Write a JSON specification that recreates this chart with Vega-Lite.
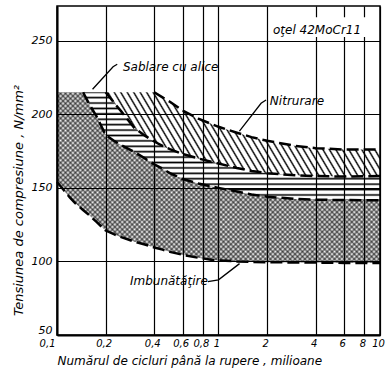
{
"$schema":"https://vega.github.io/schema/vega-lite/v6.json",
"width":323,"height":329,"autosize":"none",
"padding":{"left":57,"top":6,"right":8,"bottom":49},
"background":"white",
"params":[{"name":"xh","value":[
{"offset":0,"color":"#0008"},{"offset":0.005,"color":"#0000"},{"offset":0.01,"color":"#0008"},{"offset":0.015,"color":"#0000"},{"offset":0.02,"color":"#0008"},{"offset":0.025,"color":"#0000"},{"offset":0.03,"color":"#0008"},{"offset":0.035,"color":"#0000"},{"offset":0.04,"color":"#0008"},{"offset":0.045,"color":"#0000"},
{"offset":0.05,"color":"#0008"},{"offset":0.055,"color":"#0000"},{"offset":0.06,"color":"#0008"},{"offset":0.065,"color":"#0000"},{"offset":0.07,"color":"#0008"},{"offset":0.075,"color":"#0000"},{"offset":0.08,"color":"#0008"},{"offset":0.085,"color":"#0000"},{"offset":0.09,"color":"#0008"},{"offset":0.095,"color":"#0000"},
{"offset":0.1,"color":"#0008"},{"offset":0.105,"color":"#0000"},{"offset":0.11,"color":"#0008"},{"offset":0.115,"color":"#0000"},{"offset":0.12,"color":"#0008"},{"offset":0.125,"color":"#0000"},{"offset":0.13,"color":"#0008"},{"offset":0.135,"color":"#0000"},{"offset":0.14,"color":"#0008"},{"offset":0.145,"color":"#0000"},
{"offset":0.15,"color":"#0008"},{"offset":0.155,"color":"#0000"},{"offset":0.16,"color":"#0008"},{"offset":0.165,"color":"#0000"},{"offset":0.17,"color":"#0008"},{"offset":0.175,"color":"#0000"},{"offset":0.18,"color":"#0008"},{"offset":0.185,"color":"#0000"},{"offset":0.19,"color":"#0008"},{"offset":0.195,"color":"#0000"},
{"offset":0.2,"color":"#0008"},{"offset":0.205,"color":"#0000"},{"offset":0.21,"color":"#0008"},{"offset":0.215,"color":"#0000"},{"offset":0.22,"color":"#0008"},{"offset":0.225,"color":"#0000"},{"offset":0.23,"color":"#0008"},{"offset":0.235,"color":"#0000"},{"offset":0.24,"color":"#0008"},{"offset":0.245,"color":"#0000"},
{"offset":0.25,"color":"#0008"},{"offset":0.255,"color":"#0000"},{"offset":0.26,"color":"#0008"},{"offset":0.265,"color":"#0000"},{"offset":0.27,"color":"#0008"},{"offset":0.275,"color":"#0000"},{"offset":0.28,"color":"#0008"},{"offset":0.285,"color":"#0000"},{"offset":0.29,"color":"#0008"},{"offset":0.295,"color":"#0000"},
{"offset":0.3,"color":"#0008"},{"offset":0.305,"color":"#0000"},{"offset":0.31,"color":"#0008"},{"offset":0.315,"color":"#0000"},{"offset":0.32,"color":"#0008"},{"offset":0.325,"color":"#0000"},{"offset":0.33,"color":"#0008"},{"offset":0.335,"color":"#0000"},{"offset":0.34,"color":"#0008"},{"offset":0.345,"color":"#0000"},
{"offset":0.35,"color":"#0008"},{"offset":0.355,"color":"#0000"},{"offset":0.36,"color":"#0008"},{"offset":0.365,"color":"#0000"},{"offset":0.37,"color":"#0008"},{"offset":0.375,"color":"#0000"},{"offset":0.38,"color":"#0008"},{"offset":0.385,"color":"#0000"},{"offset":0.39,"color":"#0008"},{"offset":0.395,"color":"#0000"},
{"offset":0.4,"color":"#0008"},{"offset":0.405,"color":"#0000"},{"offset":0.41,"color":"#0008"},{"offset":0.415,"color":"#0000"},{"offset":0.42,"color":"#0008"},{"offset":0.425,"color":"#0000"},{"offset":0.43,"color":"#0008"},{"offset":0.435,"color":"#0000"},{"offset":0.44,"color":"#0008"},{"offset":0.445,"color":"#0000"},
{"offset":0.45,"color":"#0008"},{"offset":0.455,"color":"#0000"},{"offset":0.46,"color":"#0008"},{"offset":0.465,"color":"#0000"},{"offset":0.47,"color":"#0008"},{"offset":0.475,"color":"#0000"},{"offset":0.48,"color":"#0008"},{"offset":0.485,"color":"#0000"},{"offset":0.49,"color":"#0008"},{"offset":0.495,"color":"#0000"},
{"offset":0.5,"color":"#0008"},{"offset":0.505,"color":"#0000"},{"offset":0.51,"color":"#0008"},{"offset":0.515,"color":"#0000"},{"offset":0.52,"color":"#0008"},{"offset":0.525,"color":"#0000"},{"offset":0.53,"color":"#0008"},{"offset":0.535,"color":"#0000"},{"offset":0.54,"color":"#0008"},{"offset":0.545,"color":"#0000"},
{"offset":0.55,"color":"#0008"},{"offset":0.555,"color":"#0000"},{"offset":0.56,"color":"#0008"},{"offset":0.565,"color":"#0000"},{"offset":0.57,"color":"#0008"},{"offset":0.575,"color":"#0000"},{"offset":0.58,"color":"#0008"},{"offset":0.585,"color":"#0000"},{"offset":0.59,"color":"#0008"},{"offset":0.595,"color":"#0000"},
{"offset":0.6,"color":"#0008"},{"offset":0.605,"color":"#0000"},{"offset":0.61,"color":"#0008"},{"offset":0.615,"color":"#0000"},{"offset":0.62,"color":"#0008"},{"offset":0.625,"color":"#0000"},{"offset":0.63,"color":"#0008"},{"offset":0.635,"color":"#0000"},{"offset":0.64,"color":"#0008"},{"offset":0.645,"color":"#0000"},
{"offset":0.65,"color":"#0008"},{"offset":0.655,"color":"#0000"},{"offset":0.66,"color":"#0008"},{"offset":0.665,"color":"#0000"},{"offset":0.67,"color":"#0008"},{"offset":0.675,"color":"#0000"},{"offset":0.68,"color":"#0008"},{"offset":0.685,"color":"#0000"},{"offset":0.69,"color":"#0008"},{"offset":0.695,"color":"#0000"},
{"offset":0.7,"color":"#0008"},{"offset":0.705,"color":"#0000"},{"offset":0.71,"color":"#0008"},{"offset":0.715,"color":"#0000"},{"offset":0.72,"color":"#0008"},{"offset":0.725,"color":"#0000"},{"offset":0.73,"color":"#0008"},{"offset":0.735,"color":"#0000"},{"offset":0.74,"color":"#0008"},{"offset":0.745,"color":"#0000"},
{"offset":0.75,"color":"#0008"},{"offset":0.755,"color":"#0000"},{"offset":0.76,"color":"#0008"},{"offset":0.765,"color":"#0000"},{"offset":0.77,"color":"#0008"},{"offset":0.775,"color":"#0000"},{"offset":0.78,"color":"#0008"},{"offset":0.785,"color":"#0000"},{"offset":0.79,"color":"#0008"},{"offset":0.795,"color":"#0000"},
{"offset":0.8,"color":"#0008"},{"offset":0.805,"color":"#0000"},{"offset":0.81,"color":"#0008"},{"offset":0.815,"color":"#0000"},{"offset":0.82,"color":"#0008"},{"offset":0.825,"color":"#0000"},{"offset":0.83,"color":"#0008"},{"offset":0.835,"color":"#0000"},{"offset":0.84,"color":"#0008"},{"offset":0.845,"color":"#0000"},
{"offset":0.85,"color":"#0008"},{"offset":0.855,"color":"#0000"},{"offset":0.86,"color":"#0008"},{"offset":0.865,"color":"#0000"},{"offset":0.87,"color":"#0008"},{"offset":0.875,"color":"#0000"},{"offset":0.88,"color":"#0008"},{"offset":0.885,"color":"#0000"},{"offset":0.89,"color":"#0008"},{"offset":0.895,"color":"#0000"},
{"offset":0.9,"color":"#0008"},{"offset":0.905,"color":"#0000"},{"offset":0.91,"color":"#0008"},{"offset":0.915,"color":"#0000"},{"offset":0.92,"color":"#0008"},{"offset":0.925,"color":"#0000"},{"offset":0.93,"color":"#0008"},{"offset":0.935,"color":"#0000"},{"offset":0.94,"color":"#0008"},{"offset":0.945,"color":"#0000"},
{"offset":0.95,"color":"#0008"},{"offset":0.955,"color":"#0000"},{"offset":0.96,"color":"#0008"},{"offset":0.965,"color":"#0000"},{"offset":0.97,"color":"#0008"},{"offset":0.975,"color":"#0000"},{"offset":0.98,"color":"#0008"},{"offset":0.985,"color":"#0000"},{"offset":0.99,"color":"#0008"},{"offset":0.995,"color":"#0000"},
{"offset":1,"color":"#0008"}]}],
"config":{
"view":{"stroke":"black","strokeWidth":1.5},
"axis":{"domainColor":"black","domainWidth":2,"gridColor":"black","gridWidth":1.2,"gridOpacity":1,"ticks":false,"labelColor":"black","titleColor":"black","labelFont":"DejaVu Sans","titleFont":"DejaVu Sans","labelFontStyle":"italic","titleFontStyle":"italic","titleFontWeight":"normal","labelFontSize":11,"titleFontSize":12,"labelFlush":false,"labelOverlap":false},
"text":{"font":"DejaVu Sans","fontStyle":"italic","fontSize":12,"align":"left","baseline":"middle","color":"black"}
},
"datasets":{
"bands":[
{"band":"imb","x":0.1,"lo":154,"hi":215},{"band":"imb","x":0.11,"lo":148.5,"hi":215},{"band":"imb","x":0.12,"lo":143.5,"hi":215},{"band":"imb","x":0.13,"lo":139.5,"hi":215},{"band":"imb","x":0.145,"lo":135,"hi":215},{"band":"imb","x":0.16,"lo":131,"hi":206},{"band":"imb","x":0.175,"lo":127,"hi":199},{"band":"imb","x":0.2,"lo":121,"hi":186},{"band":"imb","x":0.225,"lo":118.5,"hi":182},{"band":"imb","x":0.25,"lo":116.5,"hi":179},{"band":"imb","x":0.3,"lo":113.5,"hi":174.5},{"band":"imb","x":0.35,"lo":111.5,"hi":170},{"band":"imb","x":0.4,"lo":109.5,"hi":166},{"band":"imb","x":0.45,"lo":108,"hi":163},{"band":"imb","x":0.5,"lo":106.5,"hi":160},{"band":"imb","x":0.6,"lo":104.5,"hi":156},{"band":"imb","x":0.75,"lo":102.5,"hi":153},{"band":"imb","x":0.9,"lo":101.2,"hi":151},{"band":"imb","x":1,"lo":100.7,"hi":150},{"band":"imb","x":1.3,"lo":100,"hi":147.5},{"band":"imb","x":1.6,"lo":99.7,"hi":145.5},{"band":"imb","x":2,"lo":99.5,"hi":144},{"band":"imb","x":3,"lo":99.3,"hi":142.5},{"band":"imb","x":4,"lo":99.2,"hi":142},{"band":"imb","x":6,"lo":99,"hi":141.7},{"band":"imb","x":10,"lo":99,"hi":141.5},
{"band":"sab","x":0.145,"lo":215,"hi":215},{"band":"sab","x":0.16,"lo":206,"hi":215},{"band":"sab","x":0.175,"lo":199,"hi":215},{"band":"sab","x":0.2,"lo":186,"hi":215},{"band":"sab","x":0.225,"lo":182,"hi":208},{"band":"sab","x":0.25,"lo":179,"hi":202},{"band":"sab","x":0.3,"lo":174.5,"hi":191},{"band":"sab","x":0.35,"lo":170,"hi":185.5},{"band":"sab","x":0.4,"lo":166,"hi":181.5},{"band":"sab","x":0.45,"lo":163,"hi":178.5},{"band":"sab","x":0.5,"lo":160,"hi":176.3},{"band":"sab","x":0.6,"lo":156,"hi":173},{"band":"sab","x":0.75,"lo":153,"hi":170},{"band":"sab","x":0.9,"lo":151,"hi":167.7},{"band":"sab","x":1,"lo":150,"hi":166.5},{"band":"sab","x":1.3,"lo":147.5,"hi":163.5},{"band":"sab","x":1.6,"lo":145.5,"hi":161.5},{"band":"sab","x":2,"lo":144,"hi":160},{"band":"sab","x":3,"lo":142.5,"hi":158.5},{"band":"sab","x":4,"lo":142,"hi":158},{"band":"sab","x":6,"lo":141.7,"hi":157.7},{"band":"sab","x":10,"lo":141.5,"hi":158},
{"band":"nit","x":0.2,"lo":215,"hi":215},{"band":"nit","x":0.225,"lo":208,"hi":215},{"band":"nit","x":0.25,"lo":202,"hi":215},{"band":"nit","x":0.3,"lo":191,"hi":215},{"band":"nit","x":0.35,"lo":185.5,"hi":215},{"band":"nit","x":0.4,"lo":181.5,"hi":215},{"band":"nit","x":0.45,"lo":178.5,"hi":211.5},{"band":"nit","x":0.5,"lo":176.3,"hi":208.5},{"band":"nit","x":0.6,"lo":173,"hi":202.5},{"band":"nit","x":0.75,"lo":170,"hi":197},{"band":"nit","x":0.9,"lo":167.7,"hi":193.5},{"band":"nit","x":1,"lo":166.5,"hi":191.5},{"band":"nit","x":1.3,"lo":163.5,"hi":187.5},{"band":"nit","x":1.6,"lo":161.5,"hi":184.5},{"band":"nit","x":2,"lo":160,"hi":182},{"band":"nit","x":3,"lo":158.5,"hi":178.5},{"band":"nit","x":4,"lo":158,"hi":177},{"band":"nit","x":6,"lo":157.7,"hi":176},{"band":"nit","x":10,"lo":158,"hi":176}
],
"leaders":[
{"id":"s","o":1,"x":0.236,"y":234},{"id":"s","o":2,"x":0.2225,"y":232.3},{"id":"s","o":3,"x":0.166,"y":217},
{"id":"n","o":1,"x":1.97,"y":209.7},{"id":"n","o":2,"x":1.835,"y":207.5},{"id":"n","o":3,"x":1.348,"y":188.5},
{"id":"i","o":1,"x":0.86,"y":86.3},{"id":"i","o":2,"x":1.0,"y":87.5},{"id":"i","o":3,"x":1.35,"y":98.5}
],
"labels":[
{"t":"Sablare cu alice","x":0.256,"y":232},
{"t":"Nitrurare","x":2.08,"y":209},
{"t":"Imbunătăţire","x":0.283,"y":86.8},
{"t":"oţel 42MoCr11","x":2.175,"y":257.5}
],
"box":[{"x":2.12,"x2":9.6,"y":252.5,"y2":266}]
},
"layer":[
{"data":{"name":"bands"},"transform":[{"filter":"datum.band=='imb'"}],
"mark":{"type":"area","fill":{"expr":"{gradient:'linear',x1:0,y1:0,x2:1.195,y2:0.631,stops:xh}"}},
"encoding":{
"x":{"field":"x","type":"quantitative","scale":{"type":"log","domain":[0.1,10],"nice":false},"axis":{"values":[0.1,0.2,0.4,0.6,0.8,1,2,4,6,8,10],"format":"~g","labelExpr":"replace(datum.label,'.',',')","labelAlign":{"condition":{"test":"datum.value<=0.1","value":"right"},"value":"center"},"labelOffset":-2,"labelPadding":3,"labelFontSize":10,"grid":true,"title":"Numărul de cicluri până la rupere , milioane","titleAnchor":"start","titlePadding":7}},
"y":{"field":"lo","type":"quantitative","scale":{"domain":[50,273.6],"nice":false,"zero":false},"axis":{"values":[50,100,150,200,250],"labelPadding":5,"labelBaseline":{"condition":{"test":"datum.value<=50","value":"bottom"},"value":"middle"},"grid":true,"title":"Tensiunea de compresiune , N/mm²","titleFontSize":13,"titlePadding":6,"titleY":194}},
"y2":{"field":"hi"}}},
{"data":{"name":"bands"},"transform":[{"filter":"datum.band=='imb'"}],
"mark":{"type":"area","fill":{"expr":"{gradient:'linear',x1:0,y1:1,x2:1.195,y2:0.369,stops:xh}"}},
"encoding":{"x":{"field":"x","type":"quantitative"},"y":{"field":"lo","type":"quantitative"},"y2":{"field":"hi"}}},
{"data":{"name":"bands"},"transform":[{"filter":"datum.band=='sab'"}],
"mark":{"type":"area","fill":{"gradient":"linear","x1":0,"y1":0,"x2":0,"y2":1,"stops":[
{"offset":0,"color":"#000"},{"offset":0.015,"color":"#0000"},{"offset":0.035,"color":"#0000"},
{"offset":0.05,"color":"#000"},{"offset":0.065,"color":"#0000"},{"offset":0.085,"color":"#0000"},
{"offset":0.1,"color":"#000"},{"offset":0.115,"color":"#0000"},{"offset":0.135,"color":"#0000"},
{"offset":0.15,"color":"#000"},{"offset":0.165,"color":"#0000"},{"offset":0.185,"color":"#0000"},
{"offset":0.2,"color":"#000"},{"offset":0.215,"color":"#0000"},{"offset":0.235,"color":"#0000"},
{"offset":0.25,"color":"#000"},{"offset":0.265,"color":"#0000"},{"offset":0.285,"color":"#0000"},
{"offset":0.3,"color":"#000"},{"offset":0.315,"color":"#0000"},{"offset":0.335,"color":"#0000"},
{"offset":0.35,"color":"#000"},{"offset":0.365,"color":"#0000"},{"offset":0.385,"color":"#0000"},
{"offset":0.4,"color":"#000"},{"offset":0.415,"color":"#0000"},{"offset":0.435,"color":"#0000"},
{"offset":0.45,"color":"#000"},{"offset":0.465,"color":"#0000"},{"offset":0.485,"color":"#0000"},
{"offset":0.5,"color":"#000"},{"offset":0.515,"color":"#0000"},{"offset":0.535,"color":"#0000"},
{"offset":0.55,"color":"#000"},{"offset":0.565,"color":"#0000"},{"offset":0.585,"color":"#0000"},
{"offset":0.6,"color":"#000"},{"offset":0.615,"color":"#0000"},{"offset":0.635,"color":"#0000"},
{"offset":0.65,"color":"#000"},{"offset":0.665,"color":"#0000"},{"offset":0.685,"color":"#0000"},
{"offset":0.7,"color":"#000"},{"offset":0.715,"color":"#0000"},{"offset":0.735,"color":"#0000"},
{"offset":0.75,"color":"#000"},{"offset":0.765,"color":"#0000"},{"offset":0.785,"color":"#0000"},
{"offset":0.8,"color":"#000"},{"offset":0.815,"color":"#0000"},{"offset":0.835,"color":"#0000"},
{"offset":0.85,"color":"#000"},{"offset":0.865,"color":"#0000"},{"offset":0.885,"color":"#0000"},
{"offset":0.9,"color":"#000"},{"offset":0.915,"color":"#0000"},{"offset":0.935,"color":"#0000"},
{"offset":0.95,"color":"#000"},{"offset":0.965,"color":"#0000"},{"offset":0.985,"color":"#0000"},
{"offset":1,"color":"#000"}]}},
"encoding":{"x":{"field":"x","type":"quantitative"},"y":{"field":"lo","type":"quantitative"},"y2":{"field":"hi"}}},
{"data":{"name":"bands"},"transform":[{"filter":"datum.band=='nit'"}],
"mark":{"type":"area","fill":{"gradient":"linear","x1":0,"y1":1,"x2":1.143,"y2":0.793,"stops":[
{"offset":0,"color":"#000"},{"offset":0.005,"color":"#0000"},{"offset":0.015,"color":"#0000"},
{"offset":0.02,"color":"#000"},{"offset":0.025,"color":"#0000"},{"offset":0.035,"color":"#0000"},
{"offset":0.04,"color":"#000"},{"offset":0.045,"color":"#0000"},{"offset":0.055,"color":"#0000"},
{"offset":0.06,"color":"#000"},{"offset":0.065,"color":"#0000"},{"offset":0.075,"color":"#0000"},
{"offset":0.08,"color":"#000"},{"offset":0.085,"color":"#0000"},{"offset":0.095,"color":"#0000"},
{"offset":0.1,"color":"#000"},{"offset":0.105,"color":"#0000"},{"offset":0.115,"color":"#0000"},
{"offset":0.12,"color":"#000"},{"offset":0.125,"color":"#0000"},{"offset":0.135,"color":"#0000"},
{"offset":0.14,"color":"#000"},{"offset":0.145,"color":"#0000"},{"offset":0.155,"color":"#0000"},
{"offset":0.16,"color":"#000"},{"offset":0.165,"color":"#0000"},{"offset":0.175,"color":"#0000"},
{"offset":0.18,"color":"#000"},{"offset":0.185,"color":"#0000"},{"offset":0.195,"color":"#0000"},
{"offset":0.2,"color":"#000"},{"offset":0.205,"color":"#0000"},{"offset":0.215,"color":"#0000"},
{"offset":0.22,"color":"#000"},{"offset":0.225,"color":"#0000"},{"offset":0.235,"color":"#0000"},
{"offset":0.24,"color":"#000"},{"offset":0.245,"color":"#0000"},{"offset":0.255,"color":"#0000"},
{"offset":0.26,"color":"#000"},{"offset":0.265,"color":"#0000"},{"offset":0.275,"color":"#0000"},
{"offset":0.28,"color":"#000"},{"offset":0.285,"color":"#0000"},{"offset":0.295,"color":"#0000"},
{"offset":0.3,"color":"#000"},{"offset":0.305,"color":"#0000"},{"offset":0.315,"color":"#0000"},
{"offset":0.32,"color":"#000"},{"offset":0.325,"color":"#0000"},{"offset":0.335,"color":"#0000"},
{"offset":0.34,"color":"#000"},{"offset":0.345,"color":"#0000"},{"offset":0.355,"color":"#0000"},
{"offset":0.36,"color":"#000"},{"offset":0.365,"color":"#0000"},{"offset":0.375,"color":"#0000"},
{"offset":0.38,"color":"#000"},{"offset":0.385,"color":"#0000"},{"offset":0.395,"color":"#0000"},
{"offset":0.4,"color":"#000"},{"offset":0.405,"color":"#0000"},{"offset":0.415,"color":"#0000"},
{"offset":0.42,"color":"#000"},{"offset":0.425,"color":"#0000"},{"offset":0.435,"color":"#0000"},
{"offset":0.44,"color":"#000"},{"offset":0.445,"color":"#0000"},{"offset":0.455,"color":"#0000"},
{"offset":0.46,"color":"#000"},{"offset":0.465,"color":"#0000"},{"offset":0.475,"color":"#0000"},
{"offset":0.48,"color":"#000"},{"offset":0.485,"color":"#0000"},{"offset":0.495,"color":"#0000"},
{"offset":0.5,"color":"#000"},{"offset":0.505,"color":"#0000"},{"offset":0.515,"color":"#0000"},
{"offset":0.52,"color":"#000"},{"offset":0.525,"color":"#0000"},{"offset":0.535,"color":"#0000"},
{"offset":0.54,"color":"#000"},{"offset":0.545,"color":"#0000"},{"offset":0.555,"color":"#0000"},
{"offset":0.56,"color":"#000"},{"offset":0.565,"color":"#0000"},{"offset":0.575,"color":"#0000"},
{"offset":0.58,"color":"#000"},{"offset":0.585,"color":"#0000"},{"offset":0.595,"color":"#0000"},
{"offset":0.6,"color":"#000"},{"offset":0.605,"color":"#0000"},{"offset":0.615,"color":"#0000"},
{"offset":0.62,"color":"#000"},{"offset":0.625,"color":"#0000"},{"offset":0.635,"color":"#0000"},
{"offset":0.64,"color":"#000"},{"offset":0.645,"color":"#0000"},{"offset":0.655,"color":"#0000"},
{"offset":0.66,"color":"#000"},{"offset":0.665,"color":"#0000"},{"offset":0.675,"color":"#0000"},
{"offset":0.68,"color":"#000"},{"offset":0.685,"color":"#0000"},{"offset":0.695,"color":"#0000"},
{"offset":0.7,"color":"#000"},{"offset":0.705,"color":"#0000"},{"offset":0.715,"color":"#0000"},
{"offset":0.72,"color":"#000"},{"offset":0.725,"color":"#0000"},{"offset":0.735,"color":"#0000"},
{"offset":0.74,"color":"#000"},{"offset":0.745,"color":"#0000"},{"offset":0.755,"color":"#0000"},
{"offset":0.76,"color":"#000"},{"offset":0.765,"color":"#0000"},{"offset":0.775,"color":"#0000"},
{"offset":0.78,"color":"#000"},{"offset":0.785,"color":"#0000"},{"offset":0.795,"color":"#0000"},
{"offset":0.8,"color":"#000"},{"offset":0.805,"color":"#0000"},{"offset":0.815,"color":"#0000"},
{"offset":0.82,"color":"#000"},{"offset":0.825,"color":"#0000"},{"offset":0.835,"color":"#0000"},
{"offset":0.84,"color":"#000"},{"offset":0.845,"color":"#0000"},{"offset":0.855,"color":"#0000"},
{"offset":0.86,"color":"#000"},{"offset":0.865,"color":"#0000"},{"offset":0.875,"color":"#0000"},
{"offset":0.88,"color":"#000"},{"offset":0.885,"color":"#0000"},{"offset":0.895,"color":"#0000"},
{"offset":0.9,"color":"#000"},{"offset":0.905,"color":"#0000"},{"offset":0.915,"color":"#0000"},
{"offset":0.92,"color":"#000"},{"offset":0.925,"color":"#0000"},{"offset":0.935,"color":"#0000"},
{"offset":0.94,"color":"#000"},{"offset":0.945,"color":"#0000"},{"offset":0.955,"color":"#0000"},
{"offset":0.96,"color":"#000"},{"offset":0.965,"color":"#0000"},{"offset":0.975,"color":"#0000"},
{"offset":0.98,"color":"#000"},{"offset":0.985,"color":"#0000"},{"offset":0.995,"color":"#0000"},
{"offset":1,"color":"#000"}]}},
"encoding":{"x":{"field":"x","type":"quantitative"},"y":{"field":"lo","type":"quantitative"},"y2":{"field":"hi"}}},
{"data":{"name":"box"},"mark":{"type":"rect","fill":"white"},
"encoding":{"x":{"field":"x","type":"quantitative"},"x2":{"field":"x2"},"y":{"field":"y","type":"quantitative"},"y2":{"field":"y2"}}},
{"data":{"name":"bands"},"transform":[{"filter":"datum.band!='sab'"},{"fold":["lo","hi"],"as":["side","v"]},{"filter":"datum.side=='lo'||(datum.band=='imb'?datum.x>=0.145:datum.x>=0.4)"}],
"mark":{"type":"line","color":"black","strokeWidth":2.5,"strokeDash":[12,5]},
"encoding":{"x":{"field":"x","type":"quantitative"},"y":{"field":"v","type":"quantitative"},"detail":[{"field":"band"},{"field":"side"}]}},
{"data":{"name":"leaders"},"mark":{"type":"line","color":"black","strokeWidth":1.3},
"encoding":{"x":{"field":"x","type":"quantitative"},"y":{"field":"y","type":"quantitative"},"detail":{"field":"id"},"order":{"field":"o"}}},
{"data":{"name":"labels"},"mark":{"type":"text"},
"encoding":{"x":{"field":"x","type":"quantitative"},"y":{"field":"y","type":"quantitative"},"text":{"field":"t"}}}
]
}
